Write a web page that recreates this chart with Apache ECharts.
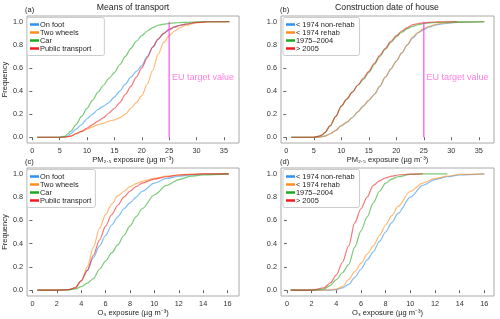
<!DOCTYPE html>
<html><head><meta charset="utf-8">
<script src="https://cdn.jsdelivr.net/npm/echarts@6/dist/echarts.min.js"></script>
<style>html,body{margin:0;padding:0;background:#fff}#c{width:500px;height:319px}</style>
</head><body><div id="c"></div>
<script>
// ---- data ----
const namesTransport = ['On foot', 'Two wheels', 'Car', 'Public transport'];
const namesHouse = ['< 1974 non-rehab', '< 1974 rehab', '1975\u20132004', '> 2005'];
const pmTicks = [0, 5, 10, 15, 20, 25, 30, 35];
const o3Ticks = [0, 2, 4, 6, 8, 10, 12, 14, 16];
const freqTicks = [0, 0.2, 0.4, 0.6, 0.8, 1.0];
const euTarget = 25;

// (a) PM2.5 by means of transport
const xA = [0.9, 5, 6, 6.5, 7, 8, 9, 10, 11, 12, 13, 14, 15, 16, 17, 18, 19, 20, 21, 22, 23, 24, 25, 26, 27, 28, 30, 32, 36];
const aFoot  = [0, 0, 0.005, 0.01, 0.03, 0.07, 0.11, 0.16, 0.2, 0.24, 0.27, 0.3, 0.35, 0.4, 0.46, 0.52, 0.57, 0.62, 0.7, 0.78, 0.85, 0.9, 0.93, 0.955, 0.97, 0.98, 0.995, 1, 1];
const aTwo   = [0, 0, 0, 0.005, 0.01, 0.03, 0.05, 0.07, 0.09, 0.11, 0.12, 0.14, 0.15, 0.17, 0.2, 0.25, 0.3, 0.36, 0.46, 0.58, 0.72, 0.82, 0.88, 0.92, 0.95, 0.97, 0.99, 0.998, 1];
const aCar   = [0, 0, 0.01, 0.03, 0.05, 0.11, 0.18, 0.25, 0.32, 0.39, 0.45, 0.51, 0.56, 0.63, 0.7, 0.77, 0.83, 0.88, 0.92, 0.95, 0.97, 0.98, 0.985, 0.99, 0.993, 0.995, 0.998, 1, 1];
const aPub   = [0, 0, 0, 0.005, 0.01, 0.03, 0.05, 0.08, 0.11, 0.14, 0.17, 0.21, 0.25, 0.3, 0.37, 0.44, 0.52, 0.6, 0.69, 0.78, 0.85, 0.9, 0.935, 0.955, 0.97, 0.98, 0.995, 1, 1];

// (b) PM2.5 by construction date
const xB = [0.9, 5, 6, 6.5, 7, 8, 9, 10, 11, 12, 13, 14, 15, 16, 17, 18, 19, 20, 21, 22, 23, 24, 25, 26, 27, 28, 30, 31, 36];
const bNon   = [0, 0, 0, 0.005, 0.01, 0.03, 0.06, 0.1, 0.13, 0.17, 0.22, 0.27, 0.32, 0.37, 0.44, 0.52, 0.59, 0.66, 0.73, 0.8, 0.86, 0.905, 0.935, 0.955, 0.97, 0.98, 0.99, 0.995, 1];
const bReh   = [0, 0, 0, 0.005, 0.01, 0.03, 0.06, 0.1, 0.13, 0.17, 0.22, 0.27, 0.32, 0.37, 0.44, 0.52, 0.59, 0.66, 0.73, 0.8, 0.87, 0.91, 0.94, 0.96, 0.975, 0.985, 0.995, 0.997, 1];
const bMid   = [0, 0, 0.01, 0.02, 0.04, 0.1, 0.18, 0.27, 0.33, 0.39, 0.45, 0.5, 0.56, 0.63, 0.7, 0.76, 0.82, 0.87, 0.91, 0.94, 0.96, 0.975, 0.985, 0.99, 0.993, 0.995, 0.998, 0.999, 1];
const bNew   = [0, 0, 0.01, 0.02, 0.04, 0.1, 0.18, 0.27, 0.33, 0.39, 0.45, 0.51, 0.57, 0.64, 0.71, 0.77, 0.83, 0.88, 0.92, 0.95, 0.975, 0.985, 0.99, 0.995, 0.998, 1, 1, 1, null];

// (c) O3 by means of transport
const xC = [0.4, 2, 3, 3.5, 4, 4.5, 5, 5.5, 6, 6.5, 7, 7.5, 8, 8.5, 9, 10, 11, 12, 13, 14, 16.1];
const cFoot  = [0, 0, 0.005, 0.02, 0.08, 0.17, 0.28, 0.38, 0.47, 0.56, 0.63, 0.7, 0.75, 0.8, 0.85, 0.92, 0.96, 0.98, 0.99, 0.997, 1];
const cTwo   = [0, 0, 0.005, 0.02, 0.08, 0.2, 0.37, 0.53, 0.65, 0.74, 0.81, 0.85, 0.89, 0.915, 0.935, 0.96, 0.98, 0.99, 0.995, 1, 1];
const cCar   = [0, 0, 0.003, 0.01, 0.03, 0.06, 0.1, 0.18, 0.25, 0.32, 0.39, 0.47, 0.55, 0.63, 0.7, 0.82, 0.9, 0.95, 0.98, 0.99, 1];
const cPub   = [0, 0, 0.005, 0.02, 0.08, 0.17, 0.3, 0.43, 0.55, 0.65, 0.73, 0.8, 0.85, 0.89, 0.92, 0.955, 0.975, 0.99, 0.995, 1, 1];

// (d) O3 by construction date
const xD = [0.3, 2, 3, 3.5, 4, 4.5, 5, 5.5, 6, 6.5, 7, 7.5, 8, 8.5, 9, 10, 11, 12, 13, 14, 16];
const dNon   = [0, 0, 0, 0, 0.005, 0.02, 0.05, 0.11, 0.18, 0.26, 0.33, 0.42, 0.5, 0.58, 0.66, 0.8, 0.9, 0.95, 0.975, 0.99, 1];
const dReh   = [0, 0, 0, 0.003, 0.01, 0.03, 0.09, 0.16, 0.23, 0.31, 0.38, 0.47, 0.56, 0.64, 0.72, 0.85, 0.92, 0.96, 0.98, 0.995, 1];
const dMid   = [0, 0, 0.01, 0.04, 0.09, 0.15, 0.22, 0.37, 0.51, 0.63, 0.75, 0.85, 0.92, 0.955, 0.975, 0.995, 1, 1, 1, null, null];
const dNew   = [0, 0, 0.02, 0.06, 0.13, 0.24, 0.38, 0.58, 0.7, 0.8, 0.9, 0.94, 0.965, 0.98, 0.99, 0.998, 1, null, null, null, null];

// ---- chart ----
const colors = ['#2a93f0', '#ff8c1a', '#1fa81f', '#ee1c1c'];
const euColor = '#ff3fe6';
const font = 'Liberation Sans, Arial, sans-serif';
const frame = '#aaaaaa';

function pairs(xs, ys) { return xs.map((x, i) => [x, ys[i]]); }

const grids = [
  {left: 26, top: 16, width: 213, height: 127},
  {left: 281, top: 16, width: 213, height: 127},
  {left: 26, top: 168, width: 213, height: 128},
  {left: 281, top: 168, width: 213, height: 128}
].map(g => Object.assign({show: true, borderColor: frame, borderWidth: 1, backgroundColor: '#fff'}, g));

function xAx(i, min, max, ticks, name) {
  return {
    type: 'value', gridIndex: i, min: min, max: max,
    name: name, nameLocation: 'middle', nameGap: 13,
    nameTextStyle: {fontFamily: font, fontSize: 7.5, color: '#222'},
    axisLine: {show: false}, splitLine: {show: false},
    axisTick: {show: true, inside: false, length: 3, customValues: ticks, lineStyle: {color: '#666'}},
    axisLabel: {show: true, margin: 4, customValues: ticks, fontFamily: font, fontSize: 7.3, color: '#333'}
  };
}
function yAx(i, showName) {
  return {
    type: 'value', gridIndex: i, min: -0.05, max: 1.05,
    name: showName ? 'Frequency' : '', nameLocation: 'middle', nameGap: 16, nameRotate: 90,
    nameTextStyle: {fontFamily: font, fontSize: 7.5, color: '#222'},
    axisLine: {show: false}, splitLine: {show: false},
    axisTick: {show: true, inside: false, length: 3, customValues: freqTicks, lineStyle: {color: '#666'}},
    axisLabel: {show: true, margin: 4, customValues: freqTicks, fontFamily: font, fontSize: 7.3, color: '#333',
      formatter: v => v.toFixed(1)}
  };
}

const pmName = 'PM\u2082.\u2085 exposure (\u00b5g m\u207b\u00b3)';
const o3Name = 'O\u2083 exposure (\u00b5g m\u207b\u00b3)';

function lineSeries(name, idx, x, y, color) {
  return {
    type: 'line', name: name, xAxisIndex: idx, yAxisIndex: idx,
    data: pairs(x, y), showSymbol: false, smooth: 0.3, smoothMonotone: 'x',
    itemStyle: {color: color},
    lineStyle: {color: color, width: 1.2, opacity: 0.6}, z: 3
  };
}
function euSeries(idx) {
  return [{
    type: 'line', name: 'EU', xAxisIndex: idx, yAxisIndex: idx,
    data: [[euTarget, 0], [euTarget, 1]], showSymbol: false,
    lineStyle: {color: euColor, width: 1.3, opacity: 0.85}, itemStyle: {color: euColor}, z: 4
  }, {
    type: 'scatter', name: 'EU label', xAxisIndex: idx, yAxisIndex: idx,
    data: [[euTarget + 0.5, 0.52]], symbolSize: 0,
    label: {show: true, position: 'right', distance: 0, formatter: 'EU target value',
      fontFamily: font, fontSize: 9, color: '#ff5fd8'}
  }];
}

const series = [
  lineSeries(namesTransport[0], 0, xA, aFoot, colors[0]),
  lineSeries(namesTransport[1], 0, xA, aTwo, colors[1]),
  lineSeries(namesTransport[2], 0, xA, aCar, colors[2]),
  lineSeries(namesTransport[3], 0, xA, aPub, colors[3]),
  ...euSeries(0),
  lineSeries(namesHouse[0], 1, xB, bNon, colors[0]),
  lineSeries(namesHouse[1], 1, xB, bReh, colors[1]),
  lineSeries(namesHouse[2], 1, xB, bMid, colors[2]),
  lineSeries(namesHouse[3], 1, xB, bNew, colors[3]),
  ...euSeries(1),
  lineSeries(namesTransport[0], 2, xC, cFoot, colors[0]),
  lineSeries(namesTransport[1], 2, xC, cTwo, colors[1]),
  lineSeries(namesTransport[2], 2, xC, cCar, colors[2]),
  lineSeries(namesTransport[3], 2, xC, cPub, colors[3]),
  lineSeries(namesHouse[0], 3, xD, dNon, colors[0]),
  lineSeries(namesHouse[1], 3, xD, dReh, colors[1]),
  lineSeries(namesHouse[2], 3, xD, dMid, colors[2]),
  lineSeries(namesHouse[3], 3, xD, dNew, colors[3])
];

function legend(names, left, top, padRight) {
  return {
    data: names, orient: 'vertical', left: left, top: top,
    icon: 'rect', itemWidth: 9, itemHeight: 2.5, itemGap: 0,
    padding: [3, padRight, 3, 3], borderColor: '#cccccc', borderWidth: 1, borderRadius: 2,
    backgroundColor: '#fff', selectedMode: false,
    itemStyle: {opacity: 1},
    textStyle: {fontFamily: font, fontSize: 7.4, color: '#222', lineHeight: 8, padding: [0, 0, 0, -4]}
  };
}

const titles = [
  {text: 'Means of transport', left: 133, top: 3.5, textAlign: 'center'},
  {text: 'Construction date of house', left: 387, top: 3.5, textAlign: 'center'},
  {text: '(a)', left: 25, top: 6, small: true},
  {text: '(b)', left: 280, top: 6, small: true},
  {text: '(c)', left: 25, top: 157.5, small: true},
  {text: '(d)', left: 280, top: 157.5, small: true}
].map(t => ({
  text: t.text, left: t.left, top: t.top, textAlign: t.textAlign || 'left', padding: 0,
  textStyle: {fontFamily: font, fontSize: t.small ? 7.5 : 8.7, fontWeight: 'normal', color: '#222'}
}));

const chart = echarts.init(document.getElementById('c'), null, {renderer: 'canvas'});
chart.setOption({
  backgroundColor: '#fff',
  animation: false,
  title: titles,
  grid: grids,
  xAxis: [xAx(0, -0.96, 37.76, pmTicks, pmName), xAx(1, -0.96, 37.76, pmTicks, pmName),
          xAx(2, -0.44, 16.94, o3Ticks, o3Name), xAx(3, -0.48, 16.78, o3Ticks, o3Name)],
  yAxis: [yAx(0, true), yAx(1, false), yAx(2, true), yAx(3, false)],
  legend: [legend(namesTransport, 27, 17.5, 13), legend(namesHouse, 283, 17.5, 5),
           legend(namesTransport, 27, 169.5, 4), legend(namesHouse, 283, 169.5, 5)],
  series: series
});
</script>
</body></html>
